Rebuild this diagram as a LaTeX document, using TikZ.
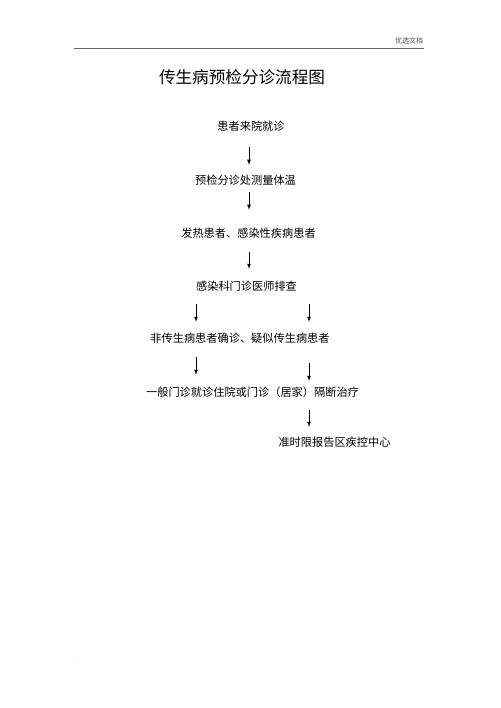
\documentclass[tikz,border=0pt]{standalone}
\usepackage{fontspec}
\setmainfont{Noto Sans CJK SC}
\usepackage{tikz}
\usetikzlibrary{arrows,positioning}

\begin{document}
\begin{tikzpicture}[x=1pt,y=-1pt,
  every node/.style={inner sep=0pt}
]
\useasboundingbox (0,0) rectangle (500,708);

\tikzstyle{stepnode}=[font=\fontsize{11.2}{12}\selectfont,text height=9.9pt,text depth=1.3pt]
\tikzstyle{titlenode}=[font=\fontsize{16.6}{18}\selectfont,text height=14.6pt,text depth=2pt]
\tikzset{gap/.style 2 args={->,shorten <=#1pt,shorten >=#2pt}}

% page header
\coordinate (hl) at (74,48);
\coordinate (hr) at (424,48);
\node[font=\fontsize{7}{8}\selectfont,text=black!70] (head) at (409,40.5) {优选文档};
\draw[black!60,line width=0.8pt] (hl) -- (hr);

\node[titlenode] (title) at (242,77.5) {传生病预检分诊流程图};

\node[stepnode] (s1) at (251,126.5) {患者来院就诊};
\node[stepnode] (s2) at (245.5,180.5) {预检分诊处测量体温};
\node[stepnode] (s3) at (248.5,233) {发热患者、感染性疾病患者};
\node[stepnode] (s4) at (246.5,286) {感染科门诊医师排查};
\node[stepnode] (s5) at (240,338.5) {非传生病患者确诊、疑似传生病患者};
\node[stepnode] (s6) at (252.5,392) {一般门诊就诊住院或门诊（居家）隔断治疗};
\node[stepnode] (s7) at (334.5,442) {准时限报告区疾控中心};

\node[font=\fontsize{6}{6}\selectfont,text=black!40] (dot) at (76,664) {.};

% arrow columns
\coordinate (mcol) at (249,0);
\coordinate (lcol) at (196,0);
\coordinate (rcol) at (309,0);

\draw[>=latex,line width=0.75pt]
  (s1.south -| mcol) edge[gap={14.9}{9.9}] (s2.north -| mcol)
  (s2.south -| mcol) edge[gap={5.9}{17.4}] (s3.north -| mcol)
  (s3.south -| mcol) edge[gap={13.4}{11.4}] (s4.north -| mcol)
  (s4.south -| lcol) edge[gap={12.4}{10.9}] (s5.north -| lcol)
  (s4.south -| rcol) edge[gap={12.4}{10.9}] (s5.north -| rcol)
  (s5.south -| lcol) edge[gap={12.9}{11.4}] (s6.north -| lcol)
  (s5.south -| rcol) edge[gap={18.9}{5.4}] (s6.north -| rcol)
  (s6.south -| rcol) edge[gap={12.4}{9.4}] (s7.north -| rcol);

\end{tikzpicture}
\end{document}
